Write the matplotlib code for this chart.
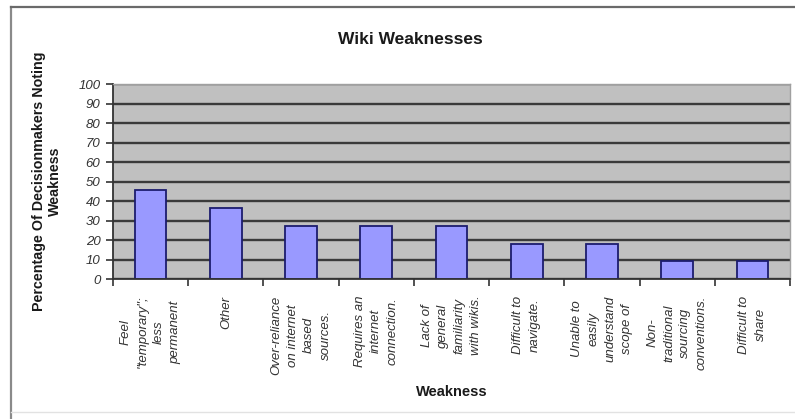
import matplotlib.pyplot as plt
import numpy as np
from matplotlib.lines import Line2D

plt.rcParams['font.family'] = ['Liberation Sans', 'DejaVu Sans']

# categories and share of decision makers noting each weakness (%)
weaknesses = [
    'Feel\n"temporary";\nless\npermanent',
    'Other',
    'Over-reliance\non internet\nbased\nsources.',
    'Requires an\ninternet\nconnection.',
    'Lack of\ngeneral\nfamiliarity\nwith wikis.',
    'Difficult to\nnavigate.',
    'Unable to\neasily\nunderstand\nscope of',
    'Non-\ntraditional\nsourcing\nconventions.',
    'Difficult to\nshare',
]
percent = [45.5, 36.4, 27.3, 27.3, 27.3, 18.2, 18.2, 9.1, 9.1]
yticks = list(range(0, 101, 10))

fig = plt.figure(figsize=(7.95, 4.19), dpi=100)
ax = fig.add_axes([0.1421, 0.3341, 0.8516, 0.4654])

# outer chart frame: darker top/left, faint bottom
W, H = 795, 419
fig.lines.append(Line2D([11 / W, 11 / W], [0, 1 - 7 / H], transform=fig.transFigure,
                        color='#8a8a8a', linewidth=1.6))
fig.lines.append(Line2D([11 / W, 1], [1 - 7 / H, 1 - 7 / H], transform=fig.transFigure,
                        color='#6a6a6a', linewidth=1.6))
fig.lines.append(Line2D([11 / W, 1], [1 - 412 / H, 1 - 412 / H], transform=fig.transFigure,
                        color='#e2e2e2', linewidth=1.0))

x = np.arange(len(percent))
ax.set_facecolor('#c0c0c0')
ax.set_axisbelow(True)
ax.yaxis.grid(True, color='#3a3a3a', linewidth=1.7)
ax.bar(x, percent, width=0.42, color='#9999ff', edgecolor='#1c1c6e', linewidth=1.3)

ax.set_xlim(-0.5, len(percent) - 0.5)
ax.set_ylim(0, 100)
ax.set_yticks(yticks)
ax.set_yticklabels([str(v) for v in yticks], fontstyle='italic', fontsize=9.5, color='#333333')

ax.set_xticks(x)
ax.set_xticklabels(weaknesses, rotation=90, fontstyle='italic', fontsize=9.5,
                   va='top', ha='center', multialignment='center', color='#333333',
                   linespacing=1.5)
ax.tick_params(axis='x', which='major', length=0, pad=12)
ax.set_xticks(np.arange(len(percent) + 1) - 0.5, minor=True)
ax.tick_params(axis='x', which='minor', length=5, width=1.2, color='#333333')
ax.tick_params(axis='y', length=5, width=1.2, color='#333333', pad=4)

for side in ['top', 'right']:
    ax.spines[side].set_color('#a0a0a0')
    ax.spines[side].set_linewidth(1.0)
for side in ['left', 'bottom']:
    ax.spines[side].set_color('#333333')
    ax.spines[side].set_linewidth(1.3)

fig.text(410 / W, 1 - 40 / H, 'Wiki Weaknesses', ha='center', va='center',
         fontsize=12.5, fontweight='bold', color='#1a1a1a')
fig.text(47 / W, 1 - 181 / H, 'Percentage Of Decisionmakers Noting\nWeakness',
         rotation=90, ha='center', va='center', fontsize=10.3, fontweight='bold',
         multialignment='center', color='#1a1a1a')
fig.text(452 / W, 1 - 392 / H, 'Weakness', ha='center', va='center',
         fontsize=10.5, fontweight='bold', color='#1a1a1a')

fig.savefig('out.png', dpi=100)
